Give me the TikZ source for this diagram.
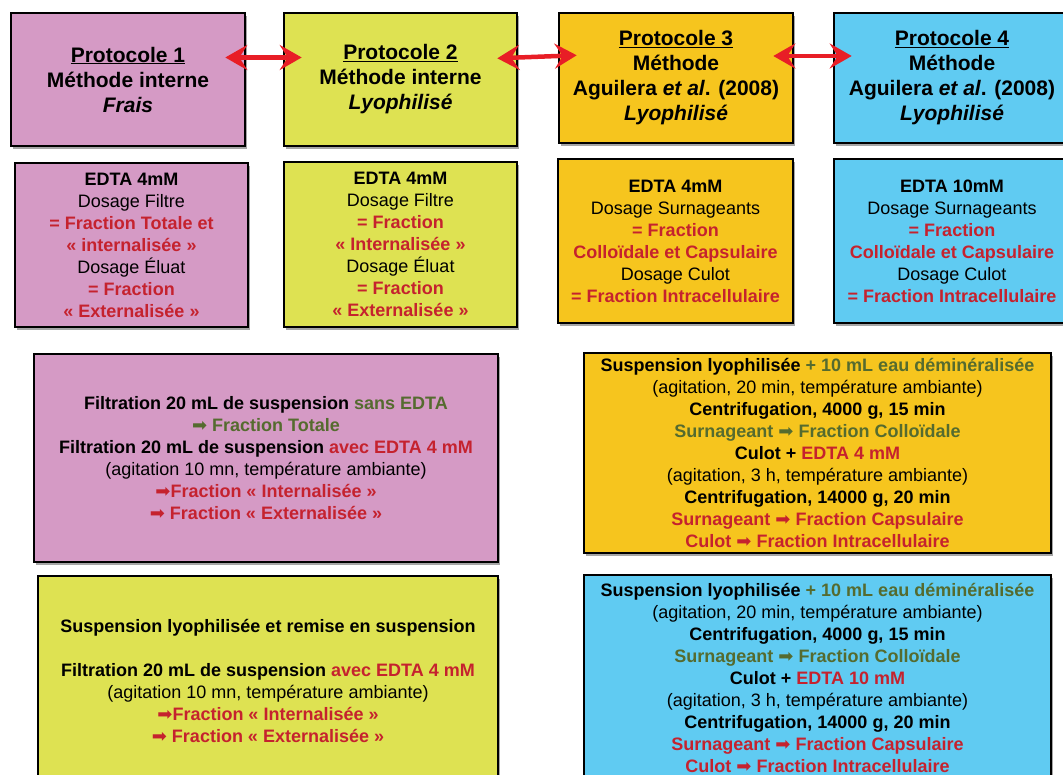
\documentclass[tikz,border=0pt]{standalone}
\usepackage{fontspec}
\setmainfont{Liberation Sans}
\newfontfamily\arrowfont{DejaVu Sans}
\usepackage{xcolor}
\usepackage{tikz}
\usetikzlibrary{
  arrows.meta,
  shadows
}
\definecolor{ProtPink}{RGB}{213,154,197}
\definecolor{ProtLime}{RGB}{222,226,82}
\definecolor{ProtGold}{RGB}{246,197,30}
\definecolor{ProtSky}{RGB}{96,203,242}
\definecolor{TxtRed}{RGB}{197,34,46}
\definecolor{TxtGreen}{RGB}{85,107,47}
\definecolor{ArrRed}{RGB}{232,30,38}
\newcommand{\redtxt}[1]{\textcolor{TxtRed}{#1}}
\newcommand{\greentxt}[1]{\textcolor{TxtGreen}{#1}}
\newcommand{\harr}{{\arrowfont\mdseries ➡}}

\begin{document}
\begin{tikzpicture}[
  x=1pt, y=-1pt,
  font=\fontsize{18}{22}\selectfont\bfseries,
  box/.style={draw, line width=2.6pt, align=center, inner sep=2pt,
    drop shadow={shadow xshift=1.5pt, shadow yshift=-3pt, fill=black, opacity=.35}},
  titlebox/.style={box, font=\fontsize{21}{25}\selectfont\bfseries},
  link/.style={{Stealth[length=22pt,width=25pt,inset=8pt]}-{Stealth[length=22pt,width=25pt,inset=8pt]},
    draw=ArrRed, fill=ArrRed, line width=4.5pt, shorten <=-21pt, shorten >=-19pt},
]
  \useasboundingbox (0,0) rectangle (1063,775);
  \clip (0,0) rectangle (1063,775);

  % protocol titles
  \node[titlebox, fill=ProtPink, minimum width=234pt, minimum height=133pt] (p1top) at (128,79.5)
    {\underline{Protocole 1}\\Méthode interne\\\textit{Frais}};
  \node[titlebox, fill=ProtLime, minimum width=233pt, minimum height=133pt] (p2top) at (400.5,79.5)
    {\underline{Protocole 2}\\Méthode interne\\\textit{Lyophilisé}};
  \node[titlebox, fill=ProtGold, minimum width=234pt, minimum height=130pt] (p3top) at (676,78)
    {\underline{Protocole 3}\\Méthode\\Aguilera \textit{et al}. (2008)\\\textit{Lyophilisé}};
  \node[titlebox, fill=ProtSky, minimum width=236pt, minimum height=130pt] (p4top) at (952,78)
    {\underline{Protocole 4}\\Méthode\\Aguilera \textit{et al}. (2008)\\\textit{Lyophilisé}};

  % links between protocols
  \draw[link] ([yshift=22pt]p1top.east) -- ([yshift=22pt]p2top.west);
  \draw[link] ([yshift=22pt]p2top.east) -- ([yshift=22pt]p3top.west);
  \draw[link] ([yshift=22pt]p3top.east) -- ([yshift=22pt]p4top.west);

  % dosage boxes
  \node[box, fill=ProtPink, minimum width=233pt, minimum height=164pt] (p1dos) at (131.5,245)
    {EDTA 4mM\\\textmd{Dosage Filtre}\\\redtxt{= Fraction Totale et}\\\redtxt{« internalisée »}\\
     \textmd{Dosage Éluat}\\\redtxt{= Fraction}\\\redtxt{« Externalisée »}};
  \node[box, fill=ProtLime, minimum width=233pt, minimum height=165pt] (p2dos) at (400.5,244.5)
    {EDTA 4mM\\\textmd{Dosage Filtre}\\\redtxt{= Fraction}\\\redtxt{« Internalisée »}\\
     \textmd{Dosage Éluat}\\\redtxt{= Fraction}\\\redtxt{« Externalisée »}};
  \node[box, fill=ProtGold, minimum width=235pt, minimum height=164pt] (p3dos) at (675.5,241)
    {EDTA 4mM\\\textmd{Dosage Surnageants}\\\redtxt{= Fraction}\\\redtxt{Colloïdale et Capsulaire}\\
     \textmd{Dosage Culot}\\\redtxt{= Fraction Intracellulaire}};
  \node[box, fill=ProtSky, minimum width=236pt, minimum height=164pt] (p4dos) at (952,241)
    {EDTA 10mM\\\textmd{Dosage Surnageants}\\\redtxt{= Fraction}\\\redtxt{Colloïdale et Capsulaire}\\
     \textmd{Dosage Culot}\\\redtxt{= Fraction Intracellulaire}};

  % methods, protocols 1 and 3
  \node[box, fill=ProtPink, minimum width=464pt, minimum height=208pt] (p1meth) at (266,458)
    {Filtration 20 mL de suspension \greentxt{sans EDTA}\\
     \greentxt{\harr{} Fraction Totale}\\
     Filtration 20 mL de suspension \redtxt{avec EDTA 4 mM}\\
     \textmd{(agitation 10 mn, température ambiante)}\\
     \redtxt{\harr Fraction « Internalisée »}\\
     \redtxt{\harr{} Fraction « Externalisée »}};
  \node[box, fill=ProtGold, minimum width=467pt, minimum height=200pt] (p3meth) at (817.5,453)
    {Suspension lyophilisée \greentxt{+ 10 mL eau déminéralisée}\\
     \textmd{(agitation, 20 min, température ambiante)}\\
     Centrifugation, 4000 g, 15 min\\
     \greentxt{Surnageant \harr{} Fraction Colloïdale}\\
     Culot + \redtxt{EDTA 4 mM}\\
     \textmd{(agitation, 3 h, température ambiante)}\\
     Centrifugation, 14000 g, 20 min\\
     \redtxt{Surnageant \harr{} Fraction Capsulaire}\\
     \redtxt{Culot \harr{} Fraction Intracellulaire}};

  % methods, protocols 2 and 4
  \node[box, fill=ProtLime, minimum width=460pt, minimum height=210pt] (p2meth) at (268,681)
    {Suspension lyophilisée et remise en suspension\\[22pt]
     Filtration 20 mL de suspension \redtxt{avec EDTA 4 mM}\\
     \textmd{(agitation 10 mn, température ambiante)}\\
     \redtxt{\harr Fraction « Internalisée »}\\
     \redtxt{\harr{} Fraction « Externalisée »}};
  \node[box, fill=ProtSky, minimum width=467pt, minimum height=206pt] (p4meth) at (817.5,678)
    {Suspension lyophilisée \greentxt{+ 10 mL eau déminéralisée}\\
     \textmd{(agitation, 20 min, température ambiante)}\\
     Centrifugation, 4000 g, 15 min\\
     \greentxt{Surnageant \harr{} Fraction Colloïdale}\\
     Culot + \redtxt{EDTA 10 mM}\\
     \textmd{(agitation, 3 h, température ambiante)}\\
     Centrifugation, 14000 g, 20 min\\
     \redtxt{Surnageant \harr{} Fraction Capsulaire}\\
     \redtxt{Culot \harr{} Fraction Intracellulaire}};
\end{tikzpicture}
\end{document}
